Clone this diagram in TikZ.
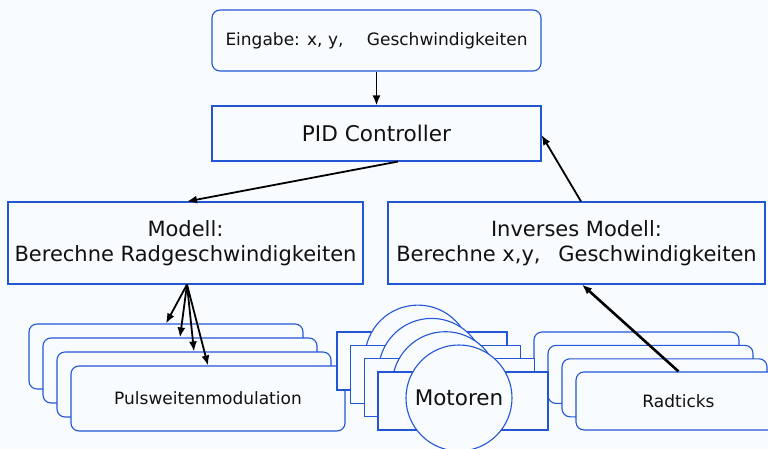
\documentclass[tikz,border=0pt]{standalone}
\usepackage{fontspec}
\setmainfont{DejaVu Sans}
\usetikzlibrary{arrows.meta,calc}
\definecolor{bg}{RGB}{248,252,255}
\definecolor{edge}{RGB}{35,85,215}
\definecolor{ink}{RGB}{17,17,17}
\begin{document}
\begin{tikzpicture}[x=1pt,y=-1pt,
  box/.style={draw=edge,line width=1.1pt,fill=bg,inner sep=0pt,text=ink,align=center},
  rbox/.style={box,rounded corners=8pt},
  arr/.style={draw=black,line width=1.8pt,-{Latex[length=10pt,width=8pt]}},
  fa/.style={font=\fontsize{17}{20}\selectfont},
  fb/.style={font=\fontsize{21}{25}\selectfont},
  fp/.style={font=\fontsize{21.6}{25}\selectfont},
  fm/.style={font=\fontsize{21.5}{25}\selectfont},
  fc/.style={font=\fontsize{17}{20}\selectfont}]
\fill[bg] (0,0) rectangle (768,449);
\useasboundingbox (0,0) rectangle (768,449);

\node[rbox,fa,minimum width=329pt,minimum height=61pt] (eingabe) at (376.5,40.5)
  {Eingabe: x, y,\hspace{18pt} Geschwindigkeiten};
\node[box,fp,minimum width=329pt,minimum height=55pt] (pid) at (376.5,133.5) {PID Controller};
\node[box,fb,minimum width=355pt,minimum height=82pt] (modell) at (185.5,243)
  {Modell:\\Berechne Radgeschwindigkeiten};
\node[box,fb,minimum width=377pt,minimum height=82pt] (inverse) at (576.5,243)
  {Inverses Modell:\\Berechne x,y,\hspace{11pt} Geschwindigkeiten};

% Pulsweitenmodulation stack
\foreach \k in {1,2,3}{
  \node[rbox,minimum width=274pt,minimum height=65pt] (pwm\k) at ({29+137+14*(\k-1)},{324+32.5+14*(\k-1)}) {};
}
\node[rbox,fc,minimum width=274pt,minimum height=65pt] (pwm4) at (208,398.5) {Pulsweitenmodulation};

% Radticks stack
\foreach \k in {1,2,3}{
  \node[rbox,minimum width=205pt,minimum height=58pt] (rad\k) at ({534+102.5+14*(\k-1)},{332+29+13.4*(\k-1)}) {};
}
\node[rbox,fc,minimum width=205pt,minimum height=58pt] (rad4) at (678.5,401) {Radticks};

% Motoren stack
\foreach \k in {1,2,3}{
  \node[box,minimum width=170pt,minimum height=58pt] (mrect\k) at ({337+85+13.7*(\k-1)},{332+29+13.3*(\k-1)}) {};
  \node[box,circle,minimum size=106pt] (mcirc\k) at ({459-13.7*(4-\k)},{398-13.3*(4-\k)}) {};
}
\node[box,minimum width=170pt,minimum height=58pt] (mrect4) at (463,401) {};
\node[box,circle,fm,minimum size=106pt] (mcirc4) at (459,398) {Motoren};

% connectors
\draw[arr] (eingabe.south) -- (pid.north);
\draw[arr] ([xshift=21.5pt]pid.south) -- ([xshift=1.5pt]modell.north);
\draw[arr] ([xshift=4.5pt]inverse.north) -- ([yshift=-1.5pt]pid.east);
\foreach \k in {1,2,3,4}{
  \draw[arr] ([xshift=1.5pt]modell.south) -- (pwm\k.north);
}
\draw[arr,line width=2.6pt] (rad4.north) -- ([xshift=5.5pt]inverse.south);
\end{tikzpicture}
\end{document}
